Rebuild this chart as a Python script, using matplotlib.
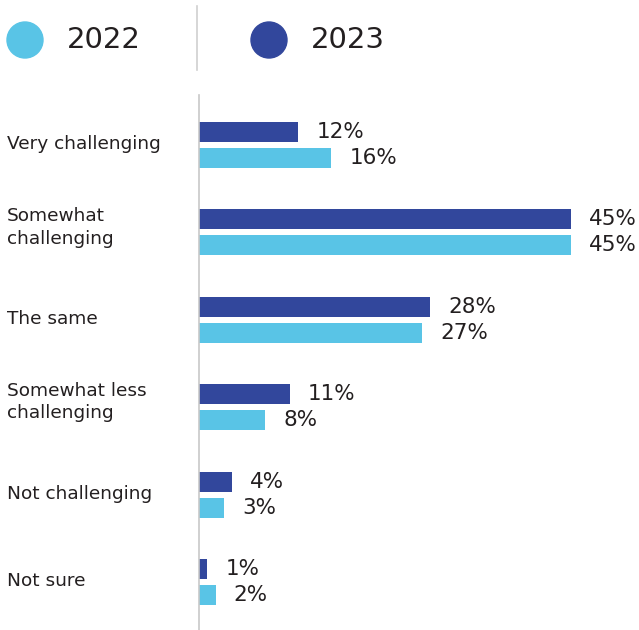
import numpy as np
import matplotlib
matplotlib.use("Agg")
import matplotlib.pyplot as plt
from matplotlib.patches import Circle

# survey answers, top to bottom
categories = ["Very challenging", "Somewhat\nchallenging", "The same",
              "Somewhat less\nchallenging", "Not challenging", "Not sure"]
vals_2023 = [12, 45, 28, 11, 4, 1]
vals_2022 = [16, 45, 27, 8, 3, 2]
years = ["2022", "2023"]

c22 = "#59C4E6"
c23 = "#32479C"
txt = "#231F20"

plt.rcParams['font.family'] = ['DejaVu Sans']

fig = plt.figure(figsize=(6.39, 6.30), dpi=100)

# main bar area: left edge at x=199px, top at y=95px
ax = fig.add_axes([199/639, 0, 440/639, 1 - 95/630])
y = np.arange(len(categories))
h = 0.229
off = 0.149
ax.barh(y - off, vals_2023, height=h, color=c23)
ax.barh(y + off, vals_2022, height=h, color=c22)

ax.set_xlim(0, 440/372*45)
ax.set_ylim(5.549, -0.572)

for yi, v in zip(y - off, vals_2023):
    ax.annotate(f"{v}%", (v, yi), xytext=(13, 0), textcoords="offset points",
                va="center", ha="left", fontsize=15.5, color=txt)
for yi, v in zip(y + off, vals_2022):
    ax.annotate(f"{v}%", (v, yi), xytext=(13, 0), textcoords="offset points",
                va="center", ha="left", fontsize=15.5, color=txt)

for yi, lab in zip(y, categories):
    dy = 3.5 if "\n" in lab else 0.5
    ax.annotate(lab, (0, yi), xytext=(-192/100*72, dy), textcoords="offset points",
                va="center", ha="left", fontsize=13.3, color=txt, linespacing=1.3,
                annotation_clip=False)

for s in ["top", "right", "bottom"]:
    ax.spines[s].set_visible(False)
ax.spines["left"].set_color("#C8C8C8")
ax.spines["left"].set_linewidth(1.2)
ax.set_xticks([])
ax.set_yticks([])

# legend drawn in pixel coordinates
lg = fig.add_axes([0, 0, 1, 1], facecolor="none")
lg.set_xlim(0, 639)
lg.set_ylim(630, 0)
lg.axis("off")
lg.add_patch(Circle((25, 40), 18, color=c22))
lg.text(67, 40, years[0], fontsize=21, va="center", ha="left", color=txt)
lg.plot([197, 197], [6, 70], color="#D0D0D0", lw=1.2)
lg.add_patch(Circle((269, 40), 18, color=c23))
lg.text(311, 40, years[1], fontsize=21, va="center", ha="left", color=txt)

fig.savefig("out.png", dpi=100)
